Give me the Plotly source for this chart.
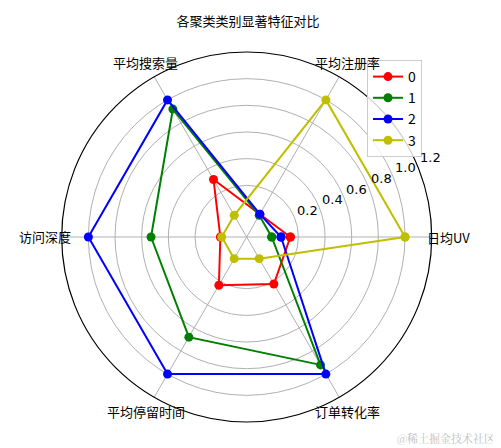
import math
import plotly.graph_objects as go

# Features (axes of the radar) and min-max scaled values per cluster
features = ["日均UV", "平均注册率", "平均搜索量", "访问深度", "平均停留时间", "订单转化率"]
clusters = ["0", "1", "2", "3"]
cluster0 = [0.14, 0.01, 0.31, 0.01, 0.23, 0.22]
cluster1 = [0.00, 0.00, 0.92, 0.53, 0.68, 0.92]
cluster2 = [0.07, 0.01, 1.00, 1.00, 1.00, 1.00]
cluster3 = [1.00, 1.00, 0.00, 0.00, 0.00, 0.00]
colors = ["#ff0000", "#008000", "#0000ff", "#bfbf00"]

radial_ticks = [0.2, 0.4, 0.6, 0.8, 1.0, 1.2]
r_min, r_max = -0.1875, 1.2

font = "Noto Sans CJK SC, DejaVu Sans, sans-serif"

# figure geometry (px); the page adds an 8px body margin, so shift by that
W, H = 501, 448
cx, cy, R = 238.7, 229.0, 185.0


def to_paper(px, py):
    return px / W, 1 - py / H


fig = go.Figure()

for name, vals, col in zip(clusters, [cluster0, cluster1, cluster2, cluster3], colors):
    # close the polygon
    fig.add_trace(go.Scatterpolar(
        r=vals + vals[:1],
        theta=features + features[:1],
        mode="lines+markers",
        name=name,
        line=dict(color=col, width=2),
        marker=dict(color=col, size=9),
    ))

annotations = []
# angular labels, centred just outside the circle
for i, feat in enumerate(features):
    a = math.radians(60 * i)
    x, y = to_paper(cx + 202 * math.cos(a), cy - 202 * math.sin(a))
    annotations.append(dict(text=feat, x=x, y=y, xref="paper", yref="paper",
                            xanchor="center", yanchor="middle", showarrow=False,
                            font=dict(size=13)))
# radial tick labels, horizontal, along ~23 degrees
for v in radial_ticks:
    d = (v - r_min) / (r_max - r_min) * R + 15
    a = math.radians(23.5)
    x, y = to_paper(cx + d * math.cos(a), cy - d * math.sin(a))
    annotations.append(dict(text=f"{v:.1f}", x=x, y=y, xref="paper", yref="paper",
                            xanchor="center", yanchor="middle", showarrow=False,
                            font=dict(size=13, family="DejaVu Sans")))

wx, wy = to_paper(489, 430)
annotations.append(dict(
    text="@稀土掘金技术社区", x=wx, y=wy, xref="paper", yref="paper",
    xanchor="right", yanchor="middle", showarrow=False,
    font=dict(size=11, color="#c0c0c0", family="Noto Serif CJK SC, Noto Sans CJK SC"),
))

tx, ty = to_paper(240, 13.7)
lx, ly = to_paper(359, 52)

fig.update_layout(
    width=W,
    height=H,
    margin=dict(l=0, r=0, t=0, b=0),
    paper_bgcolor="white",
    font=dict(family=font, size=13, color="black"),
    title=dict(text="各聚类类别显著特征对比", x=tx, xanchor="center",
               y=ty, yanchor="middle", font=dict(size=13)),
    polar=dict(
        domain=dict(x=[(cx - R) / W, (cx + R) / W],
                    y=[1 - (cy + R) / H, 1 - (cy - R) / H]),
        bgcolor="white",
        angularaxis=dict(
            rotation=0,
            direction="counterclockwise",
            showline=True,
            linecolor="black",
            linewidth=1.2,
            gridcolor="#b0b0b0",
            gridwidth=1,
            ticks="",
            showticklabels=False,
        ),
        radialaxis=dict(
            range=[r_min, r_max],
            angle=22.5,
            tickvals=radial_ticks,
            showticklabels=False,
            showline=False,
            ticks="",
            gridcolor="#b0b0b0",
            gridwidth=1,
        ),
    ),
    legend=dict(
        x=lx, y=ly, xanchor="left", yanchor="top",
        bgcolor="rgba(255,255,255,0.8)",
        bordercolor="#cccccc", borderwidth=1,
        font=dict(size=14),
    ),
    annotations=annotations,
)

fig.write_html("out.html")
